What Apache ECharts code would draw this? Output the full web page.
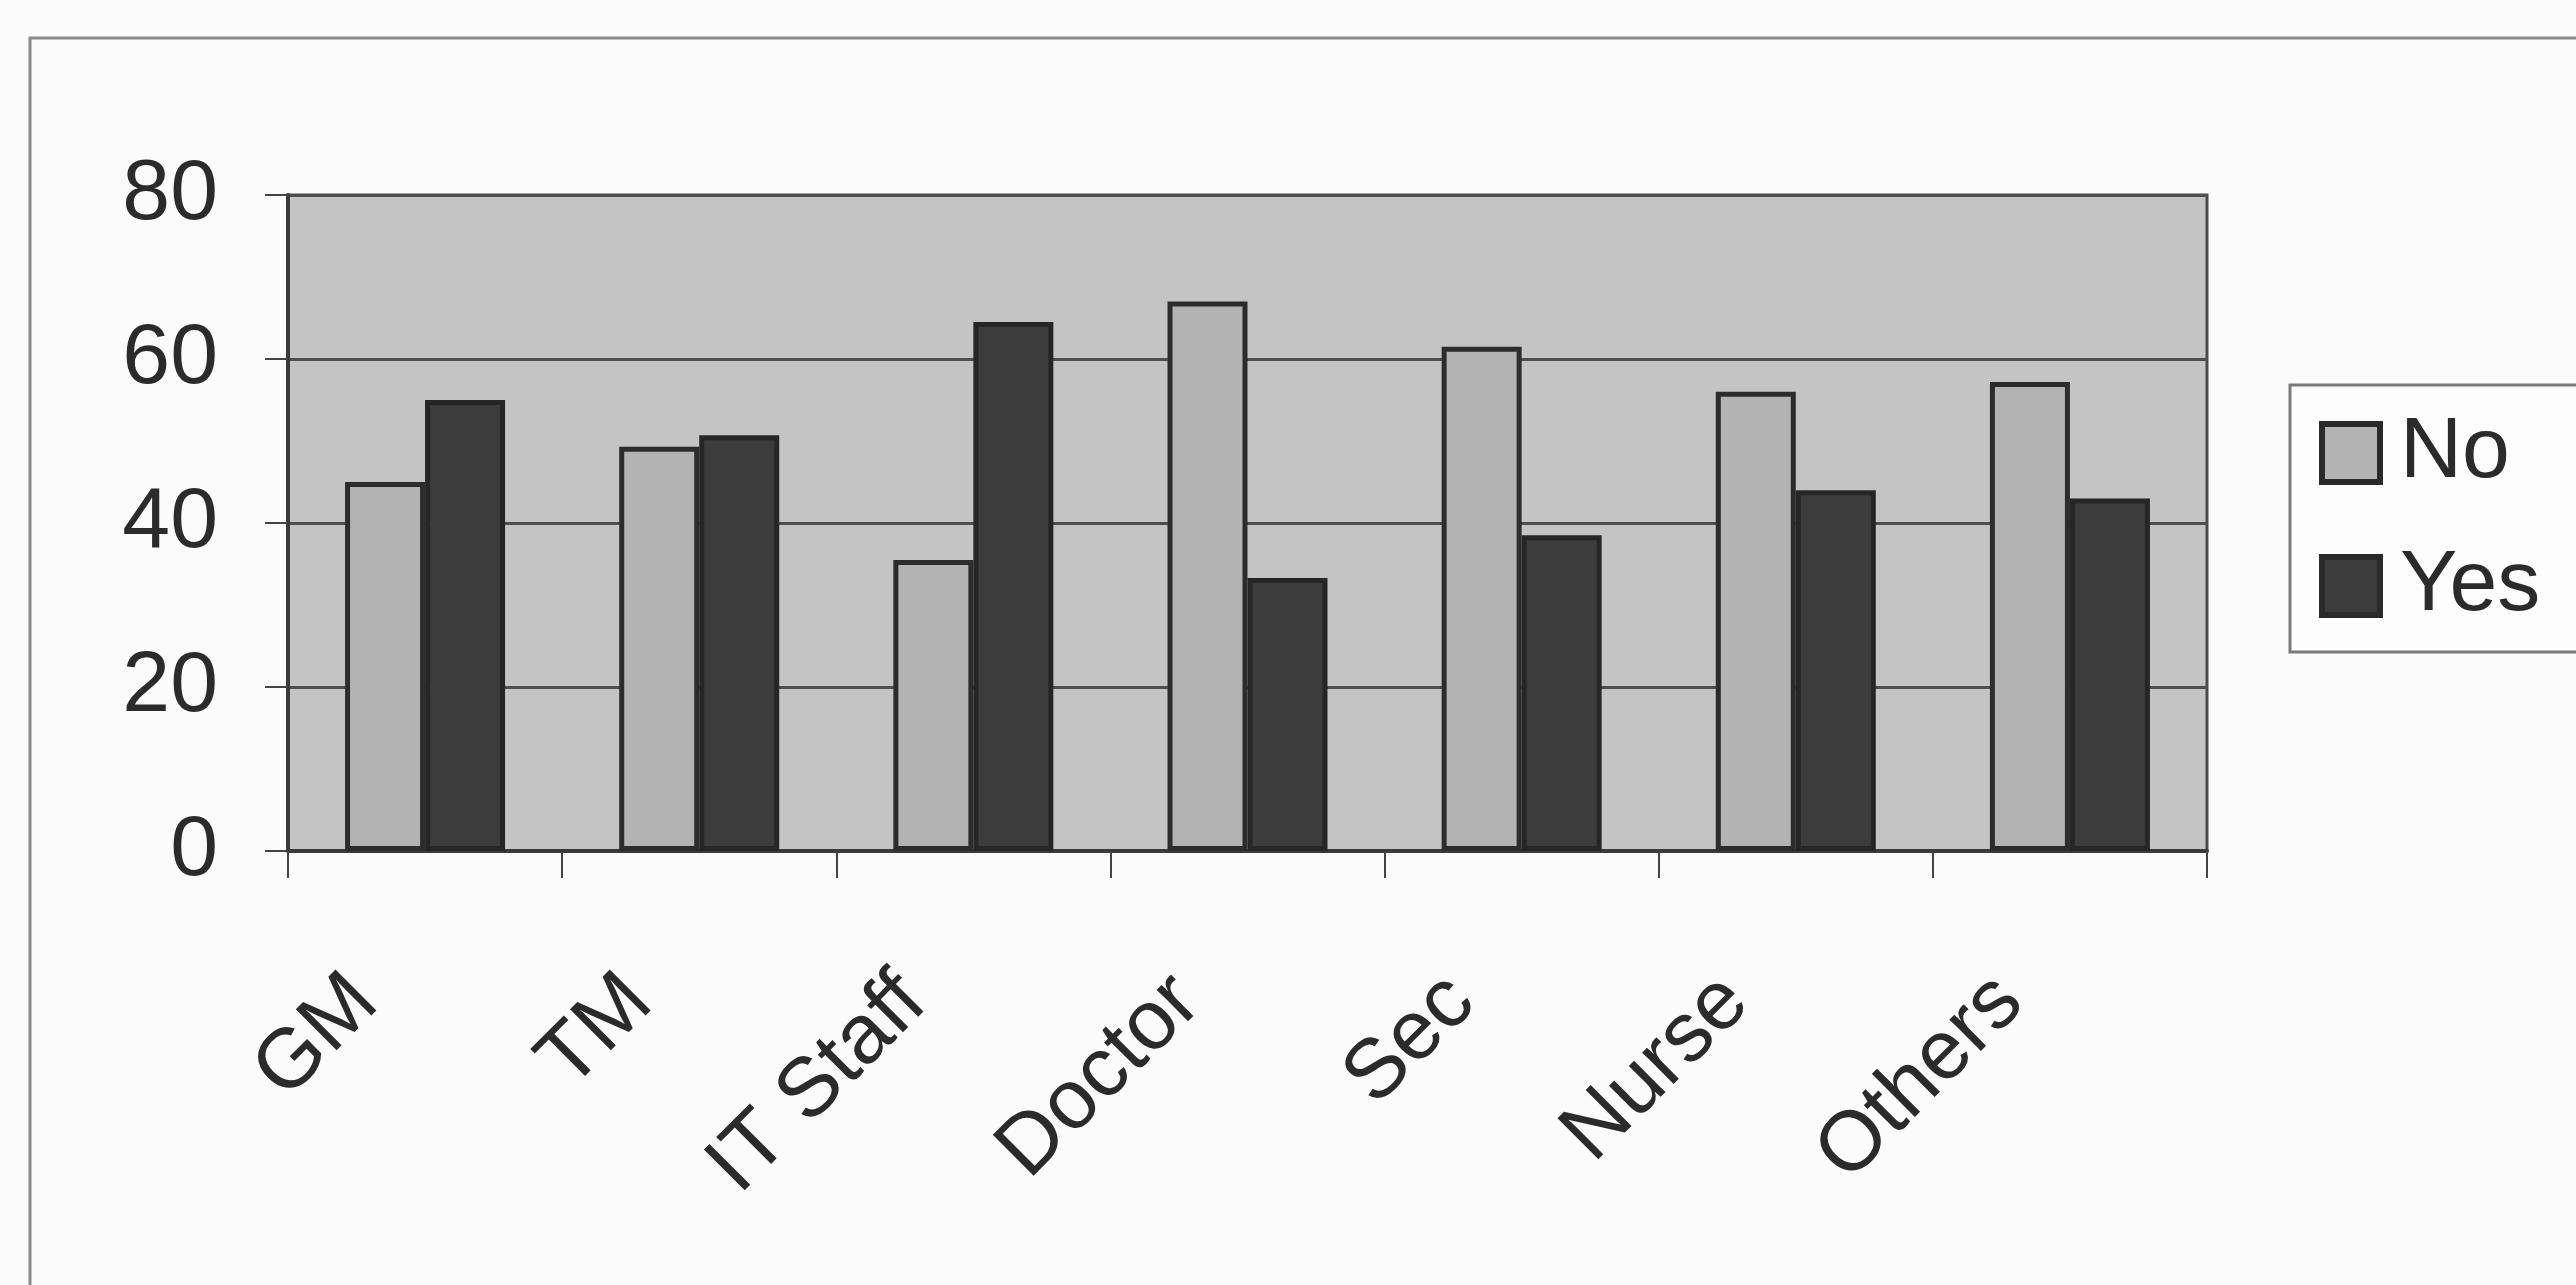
<!DOCTYPE html>
<html>
<head>
<meta charset="utf-8">
<script src="https://cdn.jsdelivr.net/npm/echarts@6/dist/echarts.min.js"></script>
<style>
  html, body { margin: 0; padding: 0; background: #fbfbfb; }
  #chart { width: 2576px; height: 1285px; }
</style>
</head>
<body>
<div id="chart"></div>
<script>
const categories = ['GM', 'TM', 'IT Staff', 'Doctor', 'Sec', 'Nurse', 'Others'];
const seriesNames = ['No', 'Yes'];
const noValues  = [45, 49.3, 35.5, 67, 61.5, 56, 57.2];
const yesValues = [55, 50.7, 64.5, 33.3, 38.5, 44, 43];
const yTicks = [0, 20, 40, 60, 80];

const chart = echarts.init(document.getElementById('chart'), null, { renderer: 'canvas' });
const FONT = '"Liberation Sans", Arial, sans-serif';
const TEXT = '#2b2b2b';

chart.setOption({
  backgroundColor: '#fbfbfb',
  animation: false,
  graphic: [{
    type: 'rect',
    silent: true,
    shape: { x: 30, y: 38, width: 2700, height: 1400 },
    style: { fill: 'none', stroke: '#8a8a8a', lineWidth: 3 }
  }],
  grid: {
    left: 288, right: 369, top: 195, bottom: 434,
    show: true,
    backgroundColor: '#c4c4c4',
    borderColor: '#4a4a4a',
    borderWidth: 3
  },
  legend: {
    data: seriesNames,
    orient: 'vertical',
    left: 2290,
    top: 385,
    icon: 'rect',
    itemWidth: 58,
    itemHeight: 58,
    itemGap: 47,
    padding: [25, 120, 23, 29],
    backgroundColor: '#fdfdfd',
    borderColor: '#7a7a7a',
    borderWidth: 3,
    borderRadius: 0,
    itemStyle: { borderWidth: 6, borderColor: '#2a2a2a' },
    textStyle: { fontFamily: FONT, fontSize: 86, color: TEXT, padding: [0, 0, 0, 15] }
  },
  xAxis: {
    type: 'category',
    data: categories,
    boundaryGap: true,
    axisLine: { show: true, lineStyle: { color: '#3a3a3a', width: 4 } },
    axisTick: { show: true, alignWithLabel: false, length: 27, lineStyle: { color: '#444', width: 2 } },
    axisLabel: {
      interval: 0,
      rotate: 45,
      margin: 78,
      fontFamily: FONT,
      fontSize: 84,
      color: TEXT,
      padding: [0, 85, 0, 0]
    },
    splitLine: { show: false }
  },
  yAxis: {
    type: 'value',
    min: yTicks[0],
    max: yTicks[yTicks.length - 1],
    interval: 20,
    axisLine: { show: true, lineStyle: { color: '#3a3a3a', width: 4 } },
    axisTick: { show: true, length: 23, lineStyle: { color: '#444', width: 2 } },
    axisLabel: { margin: 70, fontFamily: FONT, fontSize: 86, color: TEXT },
    splitLine: { show: true, lineStyle: { color: '#4e4e4e', width: 3 } }
  },
  series: [
    {
      name: seriesNames[0],
      type: 'bar',
      data: noValues,
      barWidth: 80,
      barGap: '0%',
      itemStyle: { color: '#b3b3b3', borderColor: '#2c2c2c', borderWidth: 5 }
    },
    {
      name: seriesNames[1],
      type: 'bar',
      data: yesValues,
      barWidth: 80,
      barGap: '0%',
      itemStyle: { color: '#3c3c3c', borderColor: '#262626', borderWidth: 5 }
    }
  ]
});
</script>
</body>
</html>
